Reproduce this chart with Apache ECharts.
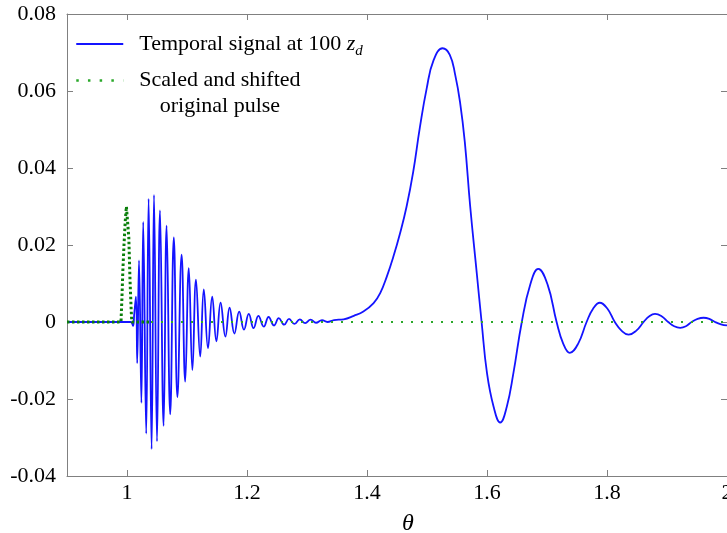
<!DOCTYPE html>
<html><head><meta charset="utf-8">
<script src="https://cdn.jsdelivr.net/npm/echarts@6/dist/echarts.min.js"></script>
<style>html,body{margin:0;padding:0;background:#fff}#c{width:727px;height:533px}</style>
</head><body><div id="c"></div>
<script>
// Temporal signal at 100 z_d (theta, value)
const signalTheta = [0.9,1.006,1.010,1.012,
 1.015,1.017,1.020,1.024,1.027,1.032,1.036,1.041,1.045,1.050,1.055,1.061,1.066,1.072,1.078,1.084,
 1.091,1.097,1.103,1.109,1.115,1.122,1.128,1.135,1.142,1.149,1.156,1.164,1.171,1.179,1.187,1.195,
 1.203,1.211,1.219,1.228,1.236,1.245,1.253,1.262,1.270,1.279,1.288,1.297,1.306,1.315,1.325,1.334,
 1.345,1.361,1.378,1.394,1.411,1.422,1.433,1.444,1.455,1.466,1.477,1.488,1.4995,1.511,1.526,1.538,
 1.547,1.555,1.563,1.572,1.583,1.591,1.600,1.611,1.622,1.633,1.644,1.658,1.672,1.6855,1.701,1.716,
 1.727,1.738,1.752,1.766,1.777,1.788,1.8005,1.813,1.8245,1.836,1.8485,1.861,1.8705,1.880,1.891,1.902,
 1.912,1.922,1.9315,1.941,1.951,1.961,1.9705,1.980,1.990,2.0];
const signalValue = [0,0,-0.001,0.002,
 0.0066,-0.0107,0.016,-0.021,0.026,-0.029,0.032,-0.033,0.033,-0.031,0.029,-0.027,0.025,-0.024,0.022,-0.0195,
 0.0175,-0.0155,0.014,-0.0125,0.011,-0.009,0.0085,-0.0068,0.0066,-0.005,0.005,-0.0038,0.0037,-0.003,0.0027,-0.002,
 0.0021,-0.0016,0.0016,-0.0012,0.0013,-0.0009,0.001,-0.0007,0.0008,-0.0005,0.0007,-0.0003,0.0006,-0.0002,0.0005,0.0,
 0.0005,0.0007,0.0016,0.0027,0.0049,0.0075,0.0118,0.017,0.023,0.030,0.039,0.0504,0.0607,0.068,0.0711,0.0694,
 0.0642,0.0572,0.0468,0.030,0.0126,0.0,-0.0133,-0.022,-0.0261,-0.022,-0.0133,0.0,0.0097,0.0138,0.0097,0.0,
 -0.0056,-0.008,-0.0056,0.0,0.0035,0.005,0.0035,0.0,-0.0023,-0.0033,-0.0023,0.0,0.0015,0.0021,0.0015,0.0,
 -0.0011,-0.0015,-0.0011,0.0,0.0008,0.0011,0.0008,0.0,-0.0006,-0.0009];
// Scaled and shifted original pulse
const pulseTheta = [0.9,0.990,0.9915,0.993,0.995,0.997,0.999,1.001,1.003,1.005,1.007,1.008,1.04];
const pulseValue = [0,0,0.006,0.013,0.020,0.026,0.030,0.0295,0.022,0.011,0.003,0,0];
const pulseTailTheta = [1.04,2.0];
const pulseTailValue = [0,0];

const xMin = 0.9, xMax = 2, yMin = -0.04, yMax = 0.08, yStep = 0.02;

const zip = (a,b) => a.map((v,i)=>[v,b[i]]);
const FONT = 'Liberation Serif';
const axisGrey = '#808080';

const chart = echarts.init(document.getElementById('c'), null, {renderer:'canvas'});
const baseX = {
  type:'value', min:xMin, max:xMax, splitNumber:5,
  axisLine:{show:true, onZero:false, lineStyle:{color:axisGrey, width:1}},
  axisTick:{show:true, inside:true, length:6, lineStyle:{color:axisGrey}},
  splitLine:{show:false}
};
const baseY = {
  type:'value', min:yMin, max:yMax, interval:yStep,
  axisLine:{show:true, onZero:false, lineStyle:{color:axisGrey, width:1}},
  axisTick:{show:true, inside:true, length:6, lineStyle:{color:axisGrey}},
  splitLine:{show:false}
};
chart.setOption({
  animation:false,
  backgroundColor:'#fff',
  grid:{left:67, right:0, top:14, bottom:57, containLabel:false, outerBoundsMode:'none'},
  xAxis:[
    Object.assign({}, baseX, {position:'bottom',
      axisLabel:{show:true, showMinLabel:false, color:'#000', fontFamily:FONT, fontSize:22, margin:6},
      name:'θ', nameLocation:'middle', nameGap:36,
      nameTextStyle:{fontFamily:FONT, fontSize:24, fontStyle:'italic', color:'#000', padding:[0,0,0,22]}}),
    Object.assign({}, baseX, {position:'top', axisLabel:{show:false}})
  ],
  yAxis:[
    Object.assign({}, baseY, {position:'left',
      axisLabel:{show:true, color:'#000', fontFamily:FONT, fontSize:22, margin:11}}),
    Object.assign({}, baseY, {position:'right', axisLabel:{show:false}})
  ],
  legend:{
    orient:'vertical', left:70, top:28, padding:5, itemGap:-15,
    itemWidth:47, itemHeight:14,
    itemStyle:{color:'rgba(0,0,0,0)', borderWidth:0, opacity:0},
    data:[
      {name:'signal'},
      {name:'pulse', lineStyle:{width:2.5, type:[2.5,9.2]}}
    ],
    formatter: n => n === 'signal'
      ? '{t|Temporal signal at 100 }{i|z}{s|d}'
      : '{e| }\n{t|Scaled and shifted}\n{c|original pulse}',
    textStyle:{
      fontFamily:FONT, fontSize:22, color:'#000', padding:[0,0,0,11],
      rich:{
        t:{fontFamily:FONT, fontSize:22, color:'#000', lineHeight:26},
        e:{fontFamily:FONT, fontSize:22, color:'#000', lineHeight:26},
        c:{fontFamily:FONT, fontSize:22, color:'#000', lineHeight:26, align:'center'},
        i:{fontFamily:FONT, fontSize:22, color:'#000', fontStyle:'italic', lineHeight:26},
        s:{fontFamily:FONT, fontSize:15, color:'#000', fontStyle:'italic', padding:[14,0,0,0]}
      }
    }
  },
  series:[
    {name:'signal', type:'line', data:zip(signalTheta, signalValue), showSymbol:false, symbol:'none',
     smooth:0.45, lineStyle:{color:'#1414ff', width:1.8}, itemStyle:{color:'#1414ff'}},
    {name:'pulse', type:'line', data:zip(pulseTailTheta, pulseTailValue), showSymbol:false, symbol:'none',
     lineStyle:{color:'#2aa82a', width:2, type:[2,8]}, itemStyle:{color:'#1e9a1e'}},
    {name:'pulse', type:'line', data:zip(pulseTheta, pulseValue), showSymbol:false, symbol:'none',
     lineStyle:{color:'#0b7f0b', width:3, type:[2.5,2.5]}, itemStyle:{color:'#1e9a1e'}}
  ]
});
</script></body></html>
